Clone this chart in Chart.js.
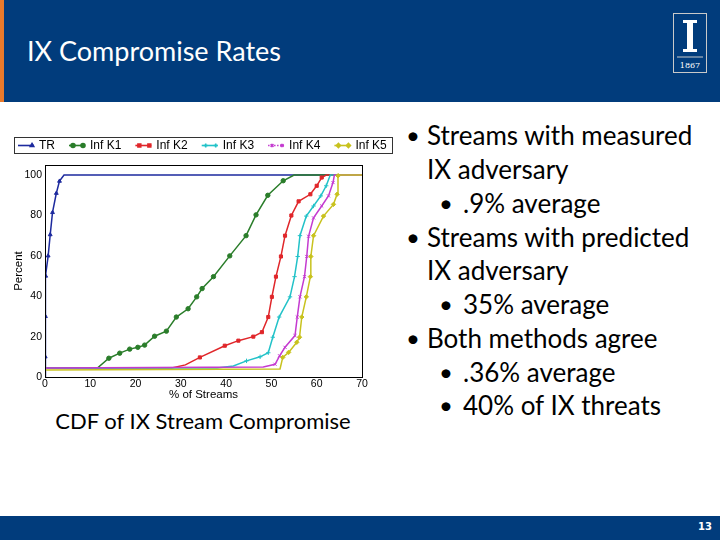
<!DOCTYPE html>
<html>
<head>
<meta charset="utf-8">
<script src="https://cdn.jsdelivr.net/npm/chart.js@4.4.0/dist/chart.umd.min.js"></script>
<style>
  html, body { margin: 0; padding: 0; width: 720px; height: 540px; overflow: hidden; background: #fff; }
  body { position: relative; font-family: Lato, "Open Sans", sans-serif; }
  #header { position: absolute; left: 0; top: 0; width: 720px; height: 102px; background: #013c7c; }
  #stripe { position: absolute; left: 0; top: 0; width: 4px; height: 102px; background: #e87a2c; }
  #title { position: absolute; left: 27px; top: 34px; color: #fff; font-size: 27px; line-height: 34px; }
  #logo { position: absolute; left: 672px; top: 12px; }
  #footer { position: absolute; left: 0; top: 516px; width: 720px; height: 24px; background: #013c7c; }
  #page { position: absolute; right: 8px; top: 5px; color: #fff; font-size: 10px; font-weight: bold; font-family: "DejaVu Sans", sans-serif; }
  #chartBox { position: absolute; left: 10px; top: 130px; width: 390px; height: 272px; }
  #caption { position: absolute; left: 10px; width: 386px; top: 407px; text-align: center; font-size: 22px; color: #000; }
  .ln { position: absolute; font-size: 26px; line-height: 34px; color: #000; white-space: nowrap; }
  .b { position: absolute; font-size: 24px; line-height: 34px; color: #000; }
</style>
</head>
<body>
<div id="header"><div id="stripe"></div><div id="title">IX Compromise Rates</div>
  <svg id="logo" width="36" height="62" viewBox="0 0 36 62">
    <rect x="1.5" y="1.5" width="33" height="59" fill="none" stroke="#c9c9c9" stroke-width="1"/>
    <path d="M11 8 h14 v3 h-4 v26 h4 v3 h-14 v-3 h4 v-26 h-4 z" fill="#fff"/>
    <line x1="5" y1="45" x2="31" y2="45" stroke="#c9c9c9" stroke-width="1"/>
    <text x="18" y="56" font-size="8" fill="#fff" text-anchor="middle" font-family="DejaVu Serif, serif">1867</text>
  </svg>
</div>
<div id="footer"><div id="page">13</div></div>

<div id="chartBox"><canvas id="cdf" width="390" height="272"></canvas></div>
<div id="caption">CDF of IX Stream Compromise</div>

<div class="b" style="left:406px; top:118px">•</div><div class="ln" style="left:427px; top:118px">Streams with measured</div>
<div class="ln" style="left:427px; top:152px">IX adversary</div>
<div class="b" style="left:439px; top:186px">•</div><div class="ln" style="left:463px; top:186px">.9% average</div>
<div class="b" style="left:406px; top:220px">•</div><div class="ln" style="left:427px; top:220px">Streams with predicted</div>
<div class="ln" style="left:427px; top:253px">IX adversary</div>
<div class="b" style="left:439px; top:287px">•</div><div class="ln" style="left:463px; top:287px">35% average</div>
<div class="b" style="left:406px; top:321px">•</div><div class="ln" style="left:427px; top:321px">Both methods agree</div>
<div class="b" style="left:439px; top:355px">•</div><div class="ln" style="left:463px; top:355px">.36% average</div>
<div class="b" style="left:439px; top:388px">•</div><div class="ln" style="left:463px; top:388px">40% of IX threats</div>

<script>
// CDF curves: x = % of streams, y = percent
var seriesNames = ["TR", "Inf K1", "Inf K2", "Inf K3", "Inf K4", "Inf K5"];

var trX = [0, 0.05, 0.1, 0.15, 0.7, 1.15, 1.66, 2.5, 3.2, 4.2, 70];
var trY = [0, 10, 30, 50, 60, 70.5, 81.5, 91, 97, 100, 100];

var k1X = [0, 11.7, 14.1, 16.5, 18.7, 20.5, 22, 24.2, 26.8, 29, 31.6, 33.5, 34.7, 37.2, 40.8, 44.4, 46.6, 49.2, 52.6, 55, 70];
var k1Y = [4.5, 4.7, 9.3, 11.8, 13.8, 14.7, 15.8, 20.2, 22.7, 29.7, 33.8, 39.7, 43.8, 49.7, 60, 70, 80.3, 90, 97.2, 100, 100];

var k2X = [0, 28, 31, 34.2, 39.7, 42.7, 46, 47.9, 49.3, 50.1, 51, 52.1, 53, 54.4, 56, 58.6, 60, 61.1, 62.1, 70];
var k2Y = [4.5, 4.5, 6, 9.7, 15.5, 18, 20, 22.2, 29.7, 39.7, 49.7, 59.7, 70, 80, 87, 90.5, 94.7, 98.8, 100, 100];

var k3X = [0, 38, 41.6, 44.5, 47.5, 49.3, 50.3, 51.7, 54.1, 55.1, 55.8, 56.3, 57.7, 59.3, 60.9, 62.1, 63, 70];
var k3Y = [4.5, 4.5, 5.5, 8, 10, 12, 19.7, 29.7, 39.7, 49.7, 59.7, 70, 79.7, 84.7, 89.7, 94.7, 100, 100];

var k4X = [0, 48.2, 50.8, 51.8, 53, 55.2, 55.7, 56.3, 57.3, 57.8, 58.2, 59.3, 61.1, 62.6, 63.6, 63.9, 70];
var k4Y = [4.5, 5, 6.3, 10.5, 14.7, 20.5, 29.7, 39.7, 49.7, 59.7, 69.7, 78.8, 84.7, 89.7, 96.3, 100, 100];

var k5X = [0, 51.9, 52.5, 53.8, 55.6, 56.2, 56.7, 57.7, 58.6, 58.7, 59.3, 61.5, 63.7, 64.5, 64.7, 65, 70];
var k5Y = [3.5, 4, 9.7, 12.2, 17.2, 19.7, 29.7, 39.7, 49.7, 59.7, 70, 79.7, 85.5, 90.5, 99.7, 100, 100];

var xTicks = [0, 10, 20, 30, 40, 50, 60, 70];
var yTicks = [0, 20, 40, 60, 80, 100];

var colors  = ["#1d2a9e", "#2a7d2a", "#e0262a", "#22c2c8", "#c43ad0", "#c8c21e"];
var markers = ["triangle", "circle", "rect", "cross", "crossRot", "rectRot"];
var xsList = [trX, k1X, k2X, k3X, k4X, k5X];
var ysList = [trY, k1Y, k2Y, k3Y, k4Y, k5Y];

function pts(xs, ys) {
  return xs.map(function(x, i) { return { x: x, y: ys[i] }; });
}

var datasets = seriesNames.map(function(name, i) {
  return {
    label: name,
    data: pts(xsList[i], ysList[i]),
    borderColor: colors[i],
    backgroundColor: colors[i],
    borderWidth: 1.5,
    pointStyle: markers[i],
    pointRadius: function(ctx) {
      var v = ctx.raw;
      return (v && v.y > 6 && v.y < 99.9) ? 2.2 : 0;
    },
    pointBorderWidth: 1,
    tension: 0,
    order: 6 - i
  };
});

// frame around the plot and matplotlib-style legend box
var framePlugin = {
  id: "frame",
  afterDraw: function(chart) {
    var c = chart.ctx, a = chart.chartArea;
    c.save();
    c.strokeStyle = "#000";
    c.lineWidth = 1;
    c.strokeRect(a.left + 0.5, a.top + 0.5, a.right - a.left, a.bottom - a.top);

    // legend
    c.strokeStyle = "#333";
    c.strokeRect(4.5, 7.5, 378, 16);
    c.font = "12px 'Liberation Sans', Arial, sans-serif";
    c.textBaseline = "middle";
    var x0 = 8, y0 = 15.5;
    chart.data.datasets.forEach(function(ds, i) {
      c.strokeStyle = ds.borderColor;
      c.lineWidth = 1.6;
      if (i === 4) c.setLineDash([1.5, 1.5]);
      c.beginPath(); c.moveTo(x0, y0); c.lineTo(x0 + 16, y0); c.stroke();
      c.setLineDash([]);
      c.fillStyle = ds.borderColor;
      if (i > 0) Chart.helpers.drawPoint(c, { pointStyle: ds.pointStyle, radius: 2, borderWidth: 1 }, x0 + 4, y0);
      Chart.helpers.drawPoint(c, { pointStyle: ds.pointStyle, radius: 2, borderWidth: 1 }, x0 + 14, y0);
      c.fillStyle = "#000";
      c.fillText(ds.label, x0 + 21, y0 + 0.5);
      x0 += 21 + c.measureText(ds.label).width + 14;
    });
    c.restore();
  }
};

new Chart(document.getElementById("cdf"), {
  type: "line",
  data: { datasets: datasets },
  plugins: [framePlugin],
  options: {
    responsive: false,
    animation: false,
    layout: { padding: { top: 35, right: 38, left: 0, bottom: 0 } },
    plugins: { legend: { display: false }, tooltip: { enabled: false } },
    scales: {
      x: {
        type: "linear", min: 0, max: 70,
        afterBuildTicks: function(ax) { ax.ticks = xTicks.map(function(v) { return { value: v }; }); },
        afterFit: function(ax) { ax.height = 25; },
        grid: { display: false, drawTicks: false },
        border: { color: "#000" },
        ticks: { color: "#000", padding: 1, maxRotation: 0, font: { size: 10.5, family: "'Liberation Sans', Arial" } },
        title: { display: true, text: "% of Streams", color: "#000", padding: 0, font: { size: 11.5, family: "'Liberation Sans', Arial" } }
      },
      y: {
        min: 0, max: 105,
        afterBuildTicks: function(ax) { ax.ticks = yTicks.map(function(v) { return { value: v }; }); },
        afterFit: function(ax) { ax.width = 35; },
        grid: { display: false, drawTicks: false },
        border: { color: "#000" },
        ticks: { color: "#000", padding: 3, font: { size: 10.5, family: "'Liberation Sans', Arial" } },
        title: { display: true, text: "Percent", color: "#000", padding: 2, font: { size: 11.5, family: "'Liberation Sans', Arial" } }
      }
    }
  }
});
</script>
</body>
</html>
